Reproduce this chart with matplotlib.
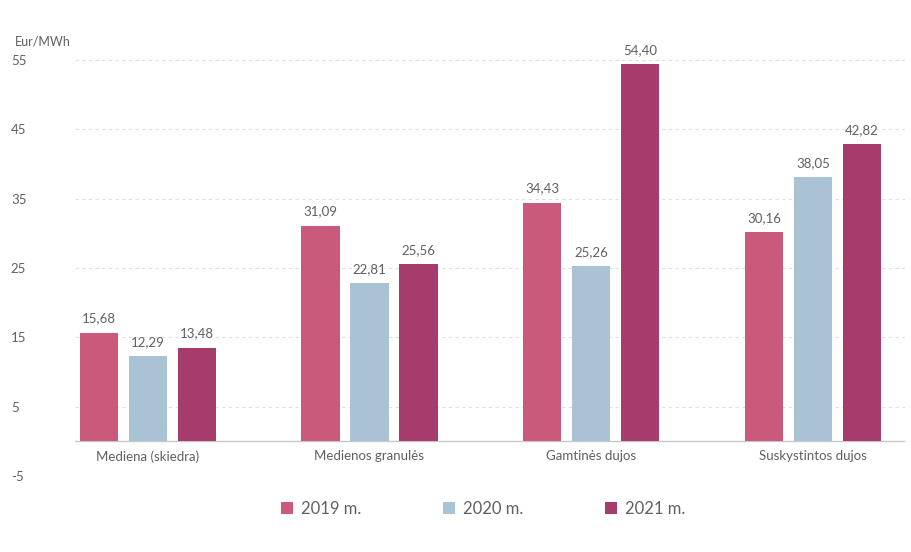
import matplotlib
matplotlib.use("Agg")
import matplotlib.pyplot as plt
import numpy as np

# data
categories = ["Mediena (skiedra)", "Medienos granulės", "Gamtinės dujos", "Suskystintos dujos"]
series_names = ["2019 m.", "2020 m.", "2021 m."]
values_2019 = [15.68, 31.09, 34.43, 30.16]
values_2020 = [12.29, 22.81, 25.26, 38.05]
values_2021 = [13.48, 25.56, 54.40, 42.82]
y_ticks = [-5, 5, 15, 25, 35, 45, 55]
unit_label = "Eur/MWh"

colors = ["#c95a7c", "#a9c3d5", "#a53c6c"]
text_grey = "#606060"

plt.rcParams["font.family"] = ["Lato", "DejaVu Sans"]

fig = plt.figure(figsize=(9.12, 5.52), dpi=100)
ax = fig.add_axes([0.082, 0.1377, 0.910, 0.779])

x = np.arange(len(categories))
bar_w = 0.172
step = 0.221
all_values = [values_2019, values_2020, values_2021]
for i, (name, vals) in enumerate(zip(series_names, all_values)):
    pos = x + (i - 1) * step
    ax.bar(pos, vals, width=bar_w, color=colors[i], label=name, zorder=3)
    for px, v in zip(pos, vals):
        ax.text(px, v + 1.2, f"{v:.2f}".replace(".", ","), ha="center", va="bottom",
                fontsize=9.5, color=text_grey)

ax.set_xlim(-0.329, 3.414)
ax.set_ylim(-5, 57)
ax.set_yticks(y_ticks)
ax.set_yticklabels([str(t) for t in y_ticks], color=text_grey, fontsize=9.5)
for lab in ax.get_yticklabels():
    lab.set_horizontalalignment("left")
ax.tick_params(axis="y", length=0, pad=46)
ax.tick_params(axis="x", length=0)
ax.set_xticks([])

for t in y_ticks:
    ax.axhline(t, color="#e0e0e0", lw=0.8, ls=(0, (3, 3)), zorder=1)
ax.axhline(0, color="#c8c8c8", lw=1.0, zorder=2)

for xi, cat in zip(x, categories):
    ax.text(xi, -1.3, cat, ha="center", va="top", fontsize=9.5, color=text_grey)

for s in ax.spines.values():
    s.set_visible(False)

fig.text(0.016, 0.925, unit_label, fontsize=9, color=text_grey, ha="left", va="center")

leg = fig.legend(loc="center", bbox_to_anchor=(0.53, 0.078), ncol=3, frameon=False,
                 fontsize=12, handlelength=0.7, handleheight=0.7, handletextpad=0.5,
                 columnspacing=4.9)
for t in leg.get_texts():
    t.set_color(text_grey)

fig.savefig("out.png", dpi=100)
